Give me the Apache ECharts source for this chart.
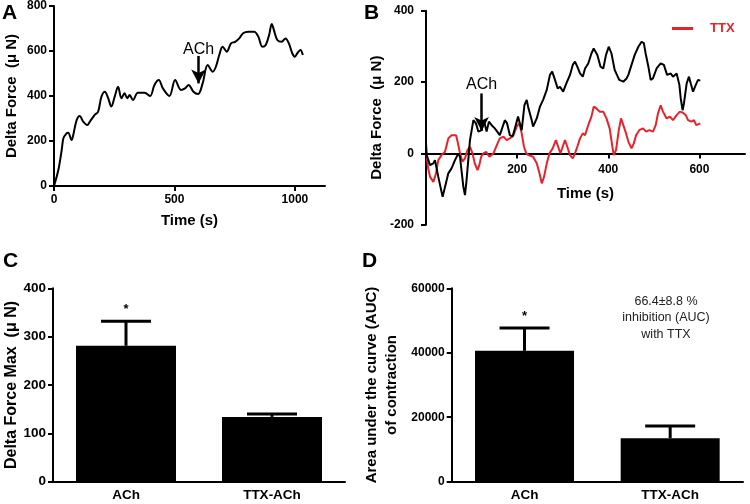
<!DOCTYPE html>
<html><head><meta charset="utf-8">
<script src="https://cdn.jsdelivr.net/npm/echarts@6/dist/echarts.min.js"></script>
<style>html,body{margin:0;padding:0;background:#fff}#c{width:750px;height:504px}</style>
</head><body><div id="c"></div>
<script>
// ---- Panel A: ACh trace ----
const aTime  = [0,18,32,39,52,59,73,80,94,107,121,138,149,169,183,197,211,225,238,252,266,280,293,304,314,328,348,376,399,417,435,452,479,503,527,544,559,579,598,617,638,659,672,686,700,717,735,752,769,785,807,831,848,865,879,893,904,913,927,945,961,975,989,1000,1010,1023,1033];
const aForce = [0,71,160,212,234,237,204,227,293,311,286,271,286,316,330,397,419,390,353,397,441,390,412,390,404,382,415,415,400,449,471,434,400,471,427,434,449,419,409,456,538,508,530,582,619,597,634,641,656,679,686,686,664,619,627,671,720,693,649,641,656,634,590,575,590,605,582];
const aArrow = {x:600, from:578, to:456, label:'ACh'};

// ---- Panel B: ACh (black) and TTX (red) traces ----
const bTime  = [0,1.5,8.8,16,19.7,27,36.5,41.7,49,56,63.6,71,74.6,82,85.5,89,96.5,104,109.6,115,122,127,133,138,144,151,162,173,178,184,190,195,202,206,210,216,221,224,232,235,243,250,257,265,272,277,283,289,294,301,308,316,322,327,332,338,344,349,356,363,368,376,383,389,395,401,407,414,424,433,440,444,451,458,466,473,478,482,488,493,498,506,515,522,529,537,542,550,556,559,563,566,572,577,581,586,592,597,602];
const bAch   = [28,-5,-33,-28,-19,-66,-122,-94,-56,-42,-19,0,-9.5,-94,-117,-75,37,93,84,61,65,93,61,89,79,70,51,93,84,51,47,70,103,84,65,135,150,131,93,75,98,131,150,178,220,229,206,182,187,173,196,220,248,257,243,224,215,238,252,280,294,276,243,238,276,299,280,234,206,201,210,220,248,276,299,313,309,280,243,206,210,238,252,248,220,224,215,224,192,154,121,140,196,215,196,173,192,206,204];
const bTtxTime = [1.5,4,9,16,22,27,34,41.7,49,56,66,68.6,74.6,80,85.5,91,96.5,102,107,113,117,121,126,132,139,148,157,162,170,177,184,192,199,205,210,215,220,225,235,243,249,254,259,265,271,278,285,290,295,300,305,310,316,322,327,332,338,344,349,356,363,368,374,381,389,396,403,409,412,417,423,428,433,439,444,451,456,461,468,476,483,490,498,504,509,515,520,528,535,542,550,557,564,570,575,582,588,593,602];
const bTtx     = [-5,-37.5,-66,-80,-56,-19,-5,4.5,42,51,51,37,0,-23,-14,9,18.5,0,-28,-47,-33,-9.5,0,4.5,-9.5,0,28,42,47,37,42,51,75,84,56,18.5,0,-5,-9.5,-28,-56,-84,-66,-28,0,14,37,18.5,0,18.5,37,18.5,-5,-14,0,18.5,42,56,51,79,103,131,126,117,117,98,70,18.5,-5,9,65,98,79,56,33,14,28,51,65,70,61,65,61,79,112,135,117,98,103,93,107,117,114,107,93,89,93,79,84];
const bArrow = {x:122, from:168, to:63, label:'ACh'};

// ---- Panels C & D: bar charts ----
const barCats = ['ACh','TTX-ACh'];
const cMean = [281, 134];
const cSem  = [51, 6];
const dMean = [40600, 13500];
const dSem  = [7100, 3800];
const sigMarks = ['*',''];
const dNote = '66.4±8.8 %\ninhibition (AUC)\nwith TTX';

const FONT = "'Liberation Sans', Arial, Helvetica, sans-serif";
const zip = (xs, ys) => xs.map((x,i)=>[x, ys[i]]);
const plain = v => String(v);

const lineAxis = {lineStyle:{color:'#000', width:2}};
const tickStyle = {lineStyle:{color:'#000', width:2}, length:5};
function lab(size, margin, extra){ return Object.assign({color:'#000', fontWeight:'bold', fontSize:size, fontFamily:FONT, margin:margin}, extra||{}); }
function nameStyle(size, extra){ return Object.assign({color:'#000', fontWeight:'bold', fontSize:size, fontFamily:FONT}, extra||{}); }

function errSeries(xi, yi, means, sems, marks){
  return {
    type:'custom', xAxisIndex:xi, yAxisIndex:yi, silent:true, z:5,
    data: means.map((m,i)=>[i, m, m+sems[i]]),
    renderItem:(params, api)=>{
      const i = api.value(0);
      const top = api.coord([i, api.value(1)]);
      const end = api.coord([i, api.value(2)]);
      const hw = 25;
      const ch = [
        {type:'line', shape:{x1:top[0], y1:top[1], x2:end[0], y2:end[1]}, style:{stroke:'#000', lineWidth:3}},
        {type:'line', shape:{x1:end[0]-hw, y1:end[1], x2:end[0]+hw, y2:end[1]}, style:{stroke:'#000', lineWidth:3}}
      ];
      const mk = marks[params.dataIndex];
      if (mk) ch.push({type:'text', x:end[0], y:end[1]-5, style:{text:mk, fill:'#000', font:'bold 13px '+FONT, textAlign:'center', textVerticalAlign:'bottom'}});
      return {type:'group', children:ch};
    }
  };
}

const option = {
  animation:false,
  backgroundColor:'#fff',
  textStyle:{fontFamily:FONT},
  grid:[
    {left:54, top:6, width:271, height:180},
    {left:426, top:10.7, width:319, height:214},
    {left:53, top:288.3, width:292, height:193.4},
    {left:451.7, top:288.3, width:291.3, height:193.4}
  ],
  legend:{data:['TTX'], left:667, top:17, icon:'rect', itemWidth:21, itemHeight:3,
          textStyle:{color:'#e8222b', fontWeight:'bold', fontSize:13, fontFamily:FONT, padding:[0,0,0,12]}},
  xAxis:[
    {type:'value', gridIndex:0, min:0, max:1125, splitLine:{show:false}, axisLine:lineAxis,
     axisTick:Object.assign({show:true, customValues:[0,500,1000]}, tickStyle),
     axisLabel:lab(12, 8, {customValues:[0,500,1000], formatter:plain}),
     name:'Time (s)', nameLocation:'middle', nameGap:27, nameTextStyle:nameStyle(15)},
    {type:'value', gridIndex:1, min:0, max:700, splitLine:{show:false}, offset:-71.3,
     axisLine:Object.assign({onZero:false}, lineAxis),
     axisTick:Object.assign({show:true, customValues:[200,400,600]}, tickStyle),
     axisLabel:lab(12, 10, {customValues:[200,400,600], formatter:plain}),
     name:'Time (s)', nameLocation:'middle', nameGap:33, nameTextStyle:nameStyle(15)},
    {type:'category', gridIndex:2, data:barCats, axisLine:lineAxis, axisTick:{show:false},
     axisLabel:lab(13.5, 7)},
    {type:'category', gridIndex:3, data:barCats, axisLine:lineAxis, axisTick:{show:false},
     axisLabel:lab(13.5, 7)}
  ],
  yAxis:[
    {type:'value', gridIndex:0, min:0, max:800, interval:200, splitLine:{show:false},
     axisLine:Object.assign({show:true}, lineAxis), axisTick:Object.assign({show:true}, tickStyle),
     axisLabel:lab(12, 7, {formatter:plain}), name:'Delta Force  (μ N)', nameLocation:'middle', nameGap:35, nameTextStyle:nameStyle(15)},
    {type:'value', gridIndex:1, min:-200, max:400, interval:200, splitLine:{show:false},
     axisLine:Object.assign({show:true}, lineAxis), axisTick:Object.assign({show:true}, tickStyle),
     axisLabel:lab(12, 12, {formatter:plain}), name:'Delta Force  (μ N)', nameLocation:'middle', nameGap:42, nameTextStyle:nameStyle(15)},
    {type:'value', gridIndex:2, min:0, max:400, interval:100, splitLine:{show:false},
     axisLine:Object.assign({show:true}, lineAxis), axisTick:Object.assign({show:true}, tickStyle),
     axisLabel:lab(13.5, 7, {formatter:plain}), name:'Delta Force Max  (μ N)', nameLocation:'middle', nameGap:33, nameTextStyle:nameStyle(16)},
    {type:'value', gridIndex:3, min:0, max:60000, interval:20000, splitLine:{show:false},
     axisLine:Object.assign({show:true}, lineAxis), axisTick:Object.assign({show:true}, tickStyle),
     axisLabel:lab(12, 7, {formatter:plain}), name:'Area under the curve (AUC)\nof contraction', nameLocation:'middle', nameGap:50,
     nameTextStyle:nameStyle(15, {lineHeight:20})}
  ],
  series:[
    {name:'ACh A', type:'line', xAxisIndex:0, yAxisIndex:0, data:zip(aTime, aForce), showSymbol:false, smooth:0.35,
     lineStyle:{color:'#000', width:2}, itemStyle:{color:'#000'},
     markLine:{silent:true, symbol:['none','arrow'], symbolSize:[11,14], animation:false,
       lineStyle:{color:'#000', width:2.5, type:'solid'},
       label:{show:true, position:'start', formatter:aArrow.label, color:'#000', fontSize:16, fontFamily:FONT, distance:-2},
       data:[[{coord:[aArrow.x, aArrow.from]}, {coord:[aArrow.x, aArrow.to]}]]}},
    {name:'TTX', type:'line', xAxisIndex:1, yAxisIndex:1, data:zip(bTtxTime, bTtx), showSymbol:false,
     lineStyle:{color:'#e8222b', width:2}, itemStyle:{color:'#e8222b'}, z:2},
    {name:'ACh B', type:'line', xAxisIndex:1, yAxisIndex:1, data:zip(bTime, bAch), showSymbol:false,
     lineStyle:{color:'#000', width:2}, itemStyle:{color:'#000'}, z:3,
     markLine:{silent:true, symbol:['none','arrow'], symbolSize:[11,14], animation:false,
       lineStyle:{color:'#000', width:2.5, type:'solid'},
       label:{show:true, position:'start', formatter:bArrow.label, color:'#000', fontSize:16, fontFamily:FONT, distance:1},
       data:[[{coord:[bArrow.x, bArrow.from]}, {coord:[bArrow.x, bArrow.to]}]]}},
    {name:'C', type:'bar', xAxisIndex:2, yAxisIndex:2, data:cMean, barWidth:100, itemStyle:{color:'#000'}},
    errSeries(2, 2, cMean, cSem, sigMarks),
    {name:'D', type:'bar', xAxisIndex:3, yAxisIndex:3, data:dMean, barWidth:99, itemStyle:{color:'#000'}},
    errSeries(3, 3, dMean, dSem, sigMarks)
  ],
  graphic:[
    {type:'text', left:2, top:3, style:{text:'A', font:'bold 21px '+FONT, fill:'#000'}},
    {type:'text', left:364, top:3, style:{text:'B', font:'bold 21px '+FONT, fill:'#000'}},
    {type:'text', left:3, top:251, style:{text:'C', font:'bold 21px '+FONT, fill:'#000'}},
    {type:'text', left:362, top:251, style:{text:'D', font:'bold 21px '+FONT, fill:'#000'}},
    {type:'text', x:666, y:293, style:{text:dNote, font:'12.5px '+FONT, fill:'#222', textAlign:'center', lineHeight:16.5}}
  ]
};
const chart = echarts.init(document.getElementById('c'), null, {renderer:'canvas'});
chart.setOption(option);
</script>
</body></html>
